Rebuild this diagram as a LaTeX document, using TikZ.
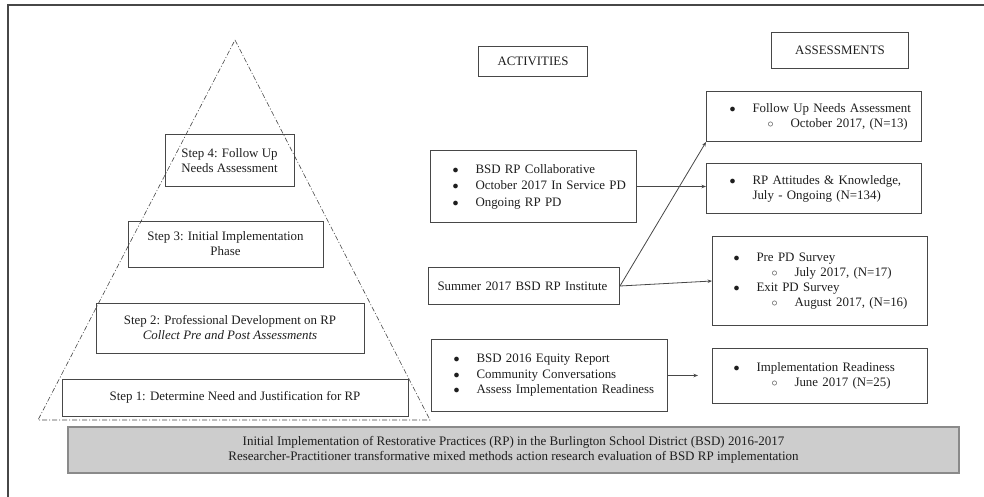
\documentclass[tikz,border=0pt]{standalone}
\usepackage{fontspec}
\setmainfont{Liberation Serif}
\usepackage{tikz}
\usetikzlibrary{calc}
\usetikzlibrary{arrows.meta}
\tikzset{>={Stealth[length=4.5pt,width=3.5pt]}}
\usepackage{xcolor}
\definecolor{mygray}{HTML}{474747}
\definecolor{mytext}{HTML}{1E1E1E}
\definecolor{bannerfill}{HTML}{CDCDCD}
\definecolor{bannerline}{HTML}{8A8A8A}
\tikzset{
	stepbox/.style={draw=mygray, line width=1pt, align=center, inner sep=0pt, text=mytext},
	listbox/.style={draw=mygray, line width=1pt, align=left, anchor=north west, inner ysep=0pt, text=mytext},
	headbox/.style={draw=mygray, line width=1pt, anchor=north west, inner ysep=0pt, text=mytext},
	conn/.style={mygray, line width=0.8pt},
	pyramid/.style={mygray, line width=0.6pt, dash pattern=on 5pt off 2pt on 1pt off 2pt},
}
\newcommand{\bul}[1]{\mbox{\makebox[23pt][l]{$\bullet$}#1}}
\newcommand{\subbul}[1]{\mbox{\hspace{38pt}\makebox[23pt][l]{$\circ$}#1}}

\begin{document}
\begin{tikzpicture}[x=1pt, y=-1pt, font=\fontsize{12.9}{15}\selectfont]
			\useasboundingbox (0,0) rectangle (984,497);
			\draw [mygray, line width=1.2pt] (8,497) -- (8,5) -- (984,5);
			\draw [pyramid] (235,40) -- (430,420) -- (38,420) -- cycle;
			\node [stepbox, minimum width=129, minimum height=51] (step4) at (229.5,160.5) {Step 4: Follow Up\\Needs Assessment};
			\node [stepbox, minimum width=195, minimum height=46] (step3) at (225.5,244) {Step 3: Initial Implementation\\Phase};
			\node [stepbox, minimum width=268, minimum height=50] (step2) at (230,328) {Step 2: Professional Development on RP\\\textit{Collect Pre and Post Assessments}};
			\node [stepbox, minimum width=346, minimum height=37] (step1) at (235,397.5) {Step 1: Determine Need and Justification for RP};
			\node [headbox, inner xsep=9, minimum width=109, minimum height=30] (acth) at (478,46) {ACTIVITIES};
			\node [headbox, inner xsep=8, minimum width=137, minimum height=36] (asmh) at (771,32) {ASSESSMENTS};
			\node [listbox, inner xsep=22, text width=162, minimum height=72] (collab) at (430,150) {\bul{BSD RP Collaborative}\\[1.5pt]\bul{October 2017 In Service PD}\\[1.5pt]\bul{Ongoing RP PD}};
			\node [listbox, inner xsep=9, text width=173, minimum height=37] (inst) at (428,267) {\mbox{Summer 2017 BSD RP Institute}};
			\node [listbox, inner xsep=22, text width=192, minimum height=72] (equity) at (431,339) {\bul{BSD 2016 Equity Report}\\[0.5pt]\bul{Community Conversations}\\[0.5pt]\bul{Assess Implementation Readiness}};
			\node [listbox, inner xsep=23, text width=169, minimum height=50] (followup) at (706,91) {\bul{Follow Up Needs Assessment}\\\subbul{October 2017, (N=13)}};
			\node [listbox, inner xsep=23, text width=169, minimum height=50] (attitudes) at (706,163) {\bul{RP Attitudes \& Knowledge,}\\\mbox{\hspace{23pt}July - Ongoing (N=134)}};
			\node [listbox, inner xsep=21, text width=173, minimum height=89] (survey) at (712,236) {\bul{Pre PD Survey}\\\subbul{July 2017, (N=17)}\\\bul{Exit PD Survey}\\\subbul{August 2017, (N=16)}};
			\node [listbox, inner xsep=21, text width=173, minimum height=55] (readiness) at (712,348) {\bul{Implementation Readiness}\\\subbul{June 2017 (N=25)}};
			\node [draw=bannerline, fill=bannerfill, line width=1.6pt, align=center, inner sep=0pt, text=mytext, minimum width=891, minimum height=46, font=\fontsize{13}{15.5}\selectfont] (banner) at (513.5,450) {Initial Implementation of Restorative Practices (RP) in the Burlington School District (BSD) 2016-2017\\Researcher-Practitioner transformative mixed methods action research evaluation of BSD RP implementation};
			\draw [->, conn] (collab.east) -- (collab.east -| attitudes.west);
			\draw [->, conn] (inst.east) -- (followup.south west);
			\draw [->, conn] (inst.east) -- (survey.west);
			\draw [->, conn, shorten >=14pt] (equity.east) -- (equity.east -| readiness.west);
		\end{tikzpicture}
\end{document}
